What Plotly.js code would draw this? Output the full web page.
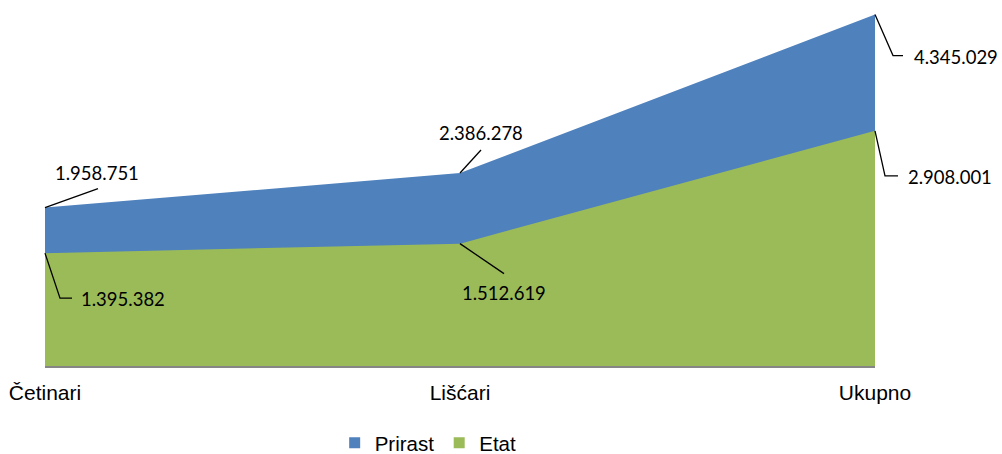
<!DOCTYPE html>
<html>
<head>
<meta charset="utf-8">
<script src="https://cdn.plot.ly/plotly-3.0.1.min.js"></script>
<style>html,body{margin:0;padding:0;background:#fff;}#chart{width:1002px;height:454px;}</style>
</head>
<body>
<div id="chart"></div>
<script>
var categories = ['Četinari', 'Lišćari', 'Ukupno'];
var prirast = [1958751, 2386278, 4345029];
var etat = [1395382, 1512619, 2908001];
var seriesNames = ['Prirast', 'Etat'];
var seriesColors = ['#4F81BD', '#9BBB59'];
var yMax = 4500000;

function fmt(v) {
  return String(v).replace(/\B(?=(\d{3})+(?!\d))/g, '.');
}

var traces = [
  {x: categories, y: prirast, type: 'scatter', mode: 'lines', fill: 'tozeroy',
   line: {width: 0, color: seriesColors[0]}, fillcolor: seriesColors[0],
   name: seriesNames[0], legendgroup: 'p', showlegend: false, hoverinfo: 'x+y+name'},
  {x: categories, y: etat, type: 'scatter', mode: 'lines', fill: 'tozeroy',
   line: {width: 0, color: seriesColors[1]}, fillcolor: seriesColors[1],
   name: seriesNames[1], legendgroup: 'e', showlegend: false, hoverinfo: 'x+y+name'},
  {x: [null], y: [null], type: 'scatter', mode: 'markers', name: seriesNames[0], legendgroup: 'p',
   marker: {symbol: 'square', size: 11, color: seriesColors[0]}},
  {x: [null], y: [null], type: 'scatter', mode: 'markers', name: seriesNames[1], legendgroup: 'e',
   marker: {symbol: 'square', size: 11, color: seriesColors[1]}}
];

// label placement (pixel offsets relative to the data point)
var prirastLabel = [
  {xshift: 52, yshift: 35, xanchor: 'center', path: 'M0,0L53,19'},
  {xshift: 21, yshift: 40, xanchor: 'center', path: 'M0,0L21,23'},
  {xshift: 37, yshift: -42, xanchor: 'left', path: 'M0,0L18,-41L28,-41'}
];
var etatLabel = [
  {xshift: 34, yshift: -46, xanchor: 'left', path: 'M0,0L15,-45L27,-45'},
  {xshift: 44, yshift: -49, xanchor: 'center', path: 'M0,0L44,-30'},
  {xshift: 31, yshift: -46, xanchor: 'left', path: 'M0,0L10,-45L23,-45'}
];

var annotations = [];
var shapes = [];
function addLabels(vals, specs) {
  for (var i = 0; i < vals.length; i++) {
    var s = specs[i];
    annotations.push({
      x: categories[i], y: vals[i], xref: 'x', yref: 'y',
      text: fmt(vals[i]), showarrow: false,
      xanchor: s.xanchor, yanchor: 'middle',
      xshift: s.xshift, yshift: s.yshift,
      font: {family: 'Lato, "Open Sans", sans-serif', size: 18.5, color: '#000'}
    });
    shapes.push({
      type: 'path', xref: 'paper', yref: 'paper',
      xsizemode: 'pixel', ysizemode: 'pixel',
      xanchor: i / (categories.length - 1), yanchor: vals[i] / yMax,
      path: s.path, line: {color: '#000', width: 1.3}
    });
  }
}
addLabels(prirast, prirastLabel);
addLabels(etat, etatLabel);

var layout = {
  width: 1002, height: 454,
  margin: {l: 45, r: 127, t: 2, b: 88, autoexpand: false},
  paper_bgcolor: '#fff', plot_bgcolor: '#fff',
  showlegend: true,
  legend: {
    orientation: 'h', x: 0.349, xanchor: 'left', y: -0.2115, yanchor: 'middle',
    font: {family: '"Liberation Sans", Arial, sans-serif', size: 20.5, color: '#000'},
    itemwidth: 30, bgcolor: 'rgba(0,0,0,0)'
  },
  xaxis: {
    type: 'category', range: [0, 2], showgrid: false, zeroline: false,
    showline: true, linecolor: '#868686', linewidth: 1.5,
    ticks: '', ticklabelstandoff: 7, automargin: false,
    tickfont: {family: '"Liberation Sans", Arial, sans-serif', size: 21, color: '#000'},
    fixedrange: true
  },
  yaxis: {
    range: [0, yMax], showgrid: false, zeroline: false, showline: false,
    showticklabels: false, ticks: '', fixedrange: true, automargin: false
  },
  annotations: annotations,
  shapes: shapes
};

Plotly.newPlot('chart', traces, layout, {displayModeBar: false});
</script>
</body>
</html>
